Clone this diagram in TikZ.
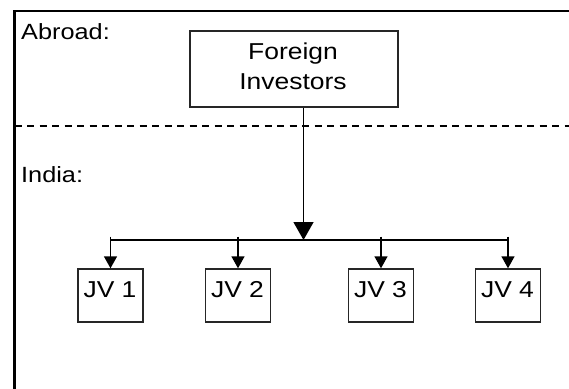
\documentclass[tikz,border=0pt]{standalone}
\usepackage{fontspec}
\usepackage{graphicx}
\setmainfont{Liberation Sans}
\usetikzlibrary{arrows.meta}
\newcommand{\hstr}[1]{\scalebox{1.15}[1]{#1}}
\tikzset{
  frameline/.style={line width=2.2pt, black},
  boxstyle/.style={draw=black!85, line width=1.4pt, inner sep=0pt},
  lbl/.style={inner sep=0pt, font=\fontsize{23}{30}\selectfont},
  reglbl/.style={inner sep=0pt, font=\fontsize{22}{30}\selectfont},
  conn/.style={line width=1.4pt, black},
  bigtip/.style={-{Triangle[length=18pt,width=20pt]}},
  smalltip/.style={-{Triangle[length=12pt,width=13pt]}},
}
\begin{document}
\begin{tikzpicture}[x=1pt,y=-1pt]
\useasboundingbox (0,0) rectangle (569,388);
% frame (cut off at right and bottom)
\draw[frameline] (14.5,400) -- (14.5,11) -- (580,11);
% dashed divider
\draw[line width=1.5pt, dash pattern=on 7pt off 5.5pt] (14.5,126) -- (575,126);
% region labels
\node[reglbl, anchor=base west] (abroad) at (21,39.5) {\hstr{Abroad:}};
\node[reglbl, anchor=base west] (india) at (21,182.5) {\hstr{India:}};
% foreign investors box
\node[boxstyle, minimum width=208pt, minimum height=76pt] (fi) at (294,69) {};
\node[lbl, anchor=base] (fi1) at (293,59.3) {\hstr{Foreign}};
\node[lbl, anchor=base] (fi2) at (293,89.3) {\hstr{Investors}};
% JV boxes
\foreach \i/\x in {1/110.5,2/238,3/381,4/508}{
  \node[boxstyle, minimum width=65pt, minimum height=53pt] (jv\i) at (\x,295.5) {};
  \node[lbl, anchor=base] (jvt\i) at (\x-0.5,297) {\hstr{JV \i}};
}
% connectors
\coordinate (split) at (303.5,240);
\draw[conn, bigtip] (fi.south -| split) -- (split);
\draw[line width=1.1pt] (jv1.north |- split) -- (jv4.north |- split);
\foreach \i in {1,...,4}{
  \draw[conn, smalltip] (jv\i.north |- 0,236.7) -- (jv\i.north);
}
\end{tikzpicture}
\end{document}
